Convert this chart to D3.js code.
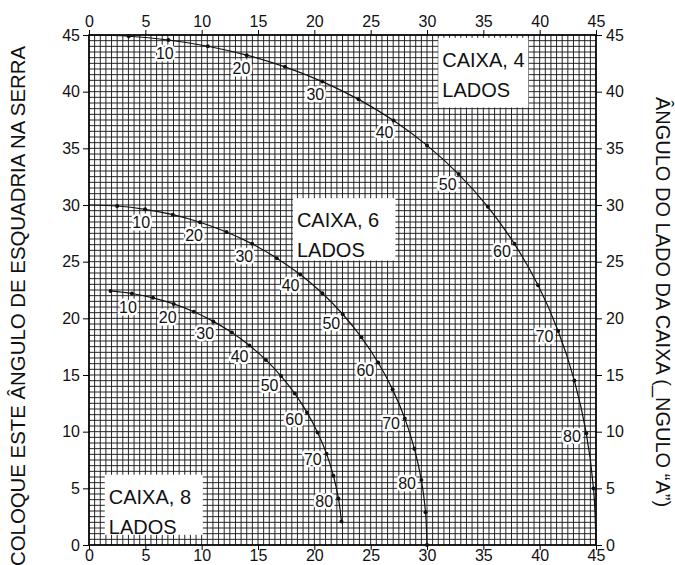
<!DOCTYPE html>
<html>
<head>
<meta charset="utf-8">
<script src="https://cdn.jsdelivr.net/npm/d3@7"></script>
<style>
  html, body { margin: 0; padding: 0; background: #fff; }
  svg { display: block; }
  text { font-family: "Liberation Sans", Arial, Helvetica, sans-serif; fill: #111; }
</style>
</head>
<body>
<svg id="chart" width="675" height="565"></svg>
<script>
// ---- data ----
const sideAngles = [0,5,10,15,20,25,30,35,40,45,50,55,60,65,70,75,80,85,90];
const box4X = [0,3.53,7.05,10.55,14.00,17.39,20.71,23.93,27.03,30.00,32.80,35.40,37.76,39.86,41.64,43.08,44.14,44.78,45.00];
const box4Y = [45,44.89,44.56,44.01,43.22,42.19,40.89,39.32,37.45,35.26,32.73,29.84,26.57,22.91,18.88,14.51,9.85,4.98,0];
const box6X = [0,2.50,4.98,7.44,9.85,12.20,14.48,16.67,18.75,20.71,22.52,24.18,25.66,26.95,28.03,28.88,29.50,29.87,30.00];
const box6Y = [30,29.91,29.62,29.15,28.48,27.62,26.57,25.31,23.86,22.21,20.36,18.32,16.10,13.71,11.17,8.50,5.73,2.88,0];
const box8Angles = [5,10,15,20,25,30,35,40,45,50,55,60,65,70,75,80,85];
const box8X = [1.91,3.81,5.68,7.52,9.31,11.03,12.68,14.24,15.70,17.05,18.27,19.35,20.29,21.08,21.69,22.14,22.41];
const box8Y = [22.42,22.19,21.81,21.27,20.58,19.73,18.74,17.60,16.33,14.91,13.36,11.70,9.93,8.06,6.12,4.11,2.07];
const labelAngles = [10,20,30,40,50,60,70,80];
const axisTicks = [0,5,10,15,20,25,30,35,40,45];
const boxTitles = [["CAIXA, 4","LADOS"],["CAIXA, 6","LADOS"],["CAIXA, 8","LADOS"]];
const leftTitle = "COLOQUE ESTE ÂNGULO DE ESQUADRIA NA SERRA";
const rightTitle = "ÂNGULO DO LADO DA CAIXA (_NGULO “A”)";

// ---- build ----
const svg = d3.select("#chart");
const x = d3.scaleLinear().domain([0,45]).range([89,596]);
const y = d3.scaleLinear().domain([0,45]).range([545,35]);

// grid
const gridVals = d3.range(0, 45.001, 0.5);
const grid = svg.append("g");
grid.selectAll("line.v").data(gridVals).join("line")
  .attr("x1", d => x(d)).attr("x2", d => x(d))
  .attr("y1", y(0)).attr("y2", y(45))
  .attr("stroke", "#1a1a1a").attr("stroke-width", 0.95);
grid.selectAll("line.h").data(gridVals).join("line")
  .attr("y1", d => y(d)).attr("y2", d => y(d))
  .attr("x1", x(0)).attr("x2", x(45))
  .attr("stroke", "#1a1a1a").attr("stroke-width", 0.95);

// frame
svg.append("rect").attr("x", x(0)).attr("y", y(45))
  .attr("width", x(45)-x(0)).attr("height", y(0)-y(45))
  .attr("fill", "none").attr("stroke", "#000").attr("stroke-width", 1.6);

// axes
const fmt = d3.format("d");
function styleAxis(g) {
  g.select(".domain").remove();
  g.selectAll(".tick line").attr("stroke", "#000").attr("stroke-width", 1);
  g.selectAll(".tick text").attr("font-size", 16).attr("fill", "#111")
    .attr("font-family", "'Liberation Sans', Arial, sans-serif");
}
svg.append("g").attr("transform", `translate(0,${y(45)})`)
  .call(d3.axisTop(x).tickValues(axisTicks).tickFormat(fmt).tickSize(5).tickPadding(3))
  .call(styleAxis);
svg.append("g").attr("transform", `translate(0,${y(0)})`)
  .call(d3.axisBottom(x).tickValues(axisTicks).tickFormat(fmt).tickSize(5).tickPadding(0))
  .call(styleAxis)
  .call(g => g.selectAll(".tick text").attr("dy", "0.66em"));
svg.append("g").attr("transform", `translate(${x(0)},0)`)
  .call(d3.axisLeft(y).tickValues(axisTicks).tickFormat(fmt).tickSize(6).tickPadding(3))
  .call(styleAxis);
svg.append("g").attr("transform", `translate(${x(45)},0)`)
  .call(d3.axisRight(y).tickValues(axisTicks).tickFormat(fmt).tickSize(6).tickPadding(4))
  .call(styleAxis);

// axis titles
svg.append("text")
  .attr("transform", `translate(25,306) rotate(-90)`)
  .attr("text-anchor", "middle").attr("font-size", 20.4)
  .text(leftTitle);
svg.append("text")
  .attr("transform", `translate(656,302) rotate(90)`)
  .attr("text-anchor", "middle").attr("font-size", 20)
  .text(rightTitle);

// series
const series = [
  { a: sideAngles, xs: box4X, ys: box4Y, dotMax: 85 },
  { a: sideAngles, xs: box6X, ys: box6Y, dotMax: 90 },
  { a: box8Angles, xs: box8X, ys: box8Y, dotMax: 85 }
];

const line = d3.line().x(d => x(d.x)).y(d => y(d.y)).curve(d3.curveCatmullRom.alpha(0.5));

// box title labels (white boxes)
const boxPos = [
  { x0: 31.0, x1: 39.0, y0: 44.75, y1: 38.6 },
  { x0: 18.1, x1: 27.2, y0: 30.6, y1: 25.1 },
  { x0: 1.4, x1: 10.1, y0: 6.2, y1: 0.9 }
];
boxPos.forEach((b, i) => {
  svg.append("rect")
    .attr("x", x(b.x0)).attr("y", y(b.y0))
    .attr("width", x(b.x1)-x(b.x0)).attr("height", y(b.y1)-y(b.y0))
    .attr("fill", "#fff");
  const t = svg.append("text").attr("font-size", 20).attr("fill", "#111");
  boxTitles[i].forEach((s, k) => {
    t.append("tspan").attr("x", x(b.x0)+4).attr("y", y(b.y0) + 29 + k*30).text(s);
  });
});

series.forEach(s => {
  const pts = s.a.map((a, i) => ({ a, x: s.xs[i], y: s.ys[i] }));
  svg.append("path").datum(pts).attr("d", line)
    .attr("fill", "none").attr("stroke", "#111").attr("stroke-width", 1.2);
  svg.append("g").selectAll("circle")
    .data(pts.filter(p => p.a >= 5 && p.a <= s.dotMax))
    .join("circle")
    .attr("cx", p => x(p.x)).attr("cy", p => y(p.y)).attr("r", 2)
    .attr("fill", "#111");
  // labels offset along the inward normal
  const lab = svg.append("g");
  labelAngles.forEach(la => {
    const i = pts.findIndex(p => p.a === la);
    if (i < 0) return;
    const p0 = pts[i-1], p1 = pts[i+1], p = pts[i];
    const tx = x(p1.x) - x(p0.x), ty = y(p1.y) - y(p0.y);
    const len = Math.hypot(tx, ty);
    const nx = -ty/len, ny = tx/len; // points down-left
    const cx = x(p.x) + 12.5*nx - 2;
    const cy = y(p.y) + 12.5*ny + 1;
    lab.append("text")
      .attr("x", cx).attr("y", cy).attr("dy", "0.36em")
      .attr("text-anchor", "middle").attr("font-size", 16)
      .attr("stroke", "#fff").attr("stroke-width", 5).attr("stroke-linejoin", "round")
      .attr("paint-order", "stroke").attr("fill", "#111")
      .text(la);
  });
});
</script>
</body>
</html>
